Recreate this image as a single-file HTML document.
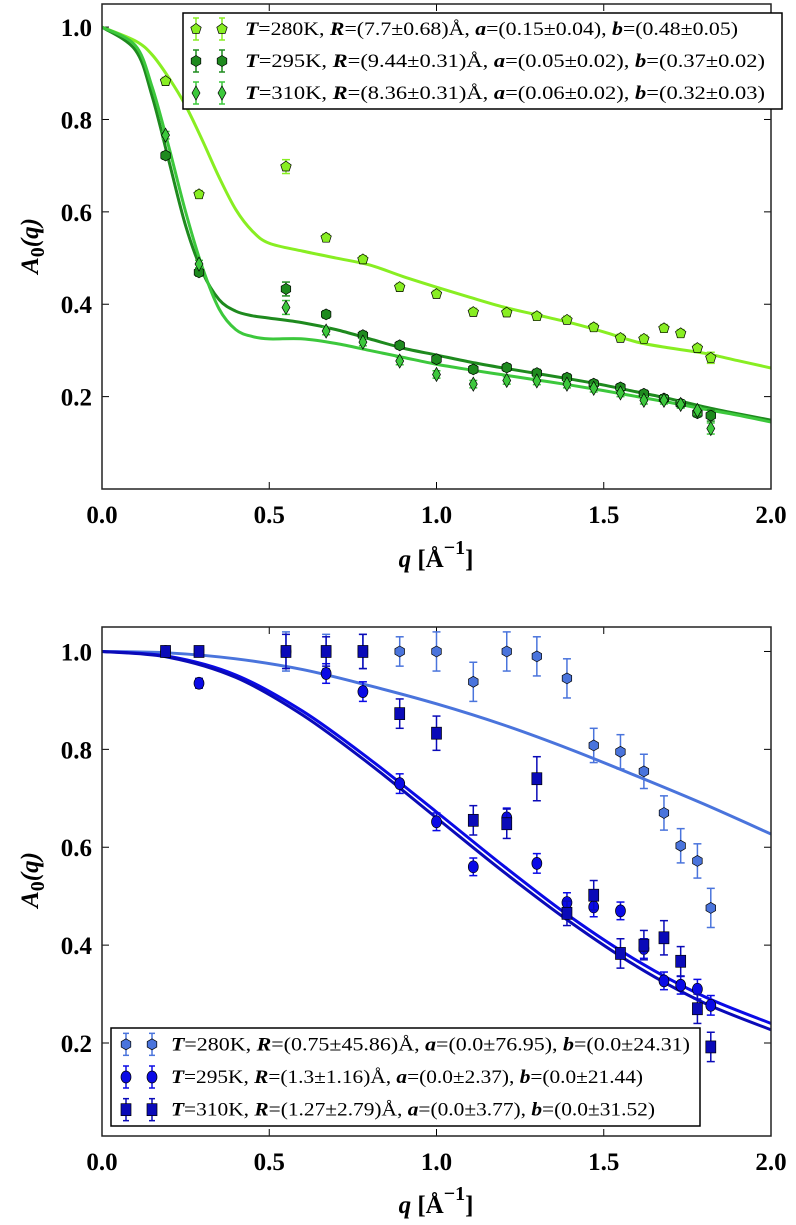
<!DOCTYPE html>
<html><head><meta charset="utf-8"><style>
body{margin:0;background:#fff}
svg{display:block}
.tk{font-family:"Liberation Serif",serif;font-weight:bold;font-size:25px}
.lg{font-family:"Liberation Serif",serif;font-size:19px}
</style></head><body>
<svg id="fig" width="796" height="1225" viewBox="0 0 796 1225"></svg>
<script>
const qPts=[0.19,0.29,0.55,0.67,0.78,0.89,1.0,1.11,1.21,1.3,1.39,1.47,1.55,1.62,1.68,1.73,1.78,1.82];
// top panel data
const top280=[0.883,0.638,0.698,0.544,0.497,0.437,0.422,0.383,0.382,0.374,0.366,0.35,0.327,0.325,0.348,0.337,0.305,0.284];
const top295=[0.722,0.469,0.433,0.378,0.333,0.311,0.281,0.259,0.263,0.251,0.241,0.228,0.22,0.206,0.196,0.185,0.164,0.159];
const top310=[0.766,0.487,0.393,0.342,0.318,0.277,0.248,0.227,0.235,0.234,0.227,0.218,0.208,0.192,0.192,0.183,0.17,0.131];
const topErr=[0.008,0.008,0.015,0.008,0.008,0.008,0.008,0.008,0.008,0.008,0.008,0.008,0.008,0.008,0.008,0.008,0.008,0.012];
const fitQTop=[0,0.1,0.15,0.2,0.25,0.3,0.35,0.4,0.45,0.5,0.6,0.7,0.8,0.9,1.0,1.1,1.2,1.3,1.4,1.5,1.6,1.7,1.8,1.9,2.0];
const fit280=[1.0,0.97,0.94,0.89,0.83,0.755,0.675,0.605,0.558,0.532,0.515,0.5,0.485,0.46,0.437,0.415,0.394,0.377,0.36,0.34,0.318,0.305,0.294,0.278,0.262];
const fit295=[1.0,0.95,0.85,0.71,0.57,0.47,0.41,0.385,0.375,0.37,0.36,0.345,0.325,0.305,0.29,0.275,0.262,0.25,0.238,0.225,0.21,0.195,0.178,0.163,0.149];
const fit310=[1.0,0.96,0.87,0.74,0.6,0.48,0.39,0.345,0.33,0.325,0.325,0.315,0.3,0.285,0.27,0.258,0.247,0.236,0.225,0.213,0.2,0.187,0.173,0.16,0.145];
// bottom panel data
const bot280=[1.0,1.0,1.0,1.0,1.0,1.0,1.0,0.938,1.0,0.99,0.945,0.808,0.795,0.755,0.67,0.603,0.572,0.476];
const bot295=[1.0,0.935,1.0,0.955,0.918,0.73,0.652,0.56,0.66,0.567,0.487,0.478,0.47,0.393,0.327,0.318,0.31,0.277];
const bot310=[1.0,1.0,1.0,1.0,1.0,0.873,0.833,0.655,0.648,0.74,0.465,0.502,0.383,0.4,0.415,0.367,0.27,0.192];
const err280=[0.01,0.01,0.04,0.035,0.035,0.03,0.04,0.04,0.04,0.04,0.04,0.035,0.035,0.035,0.035,0.035,0.035,0.04];
const err295=[0.01,0.01,0.01,0.02,0.02,0.02,0.018,0.018,0.02,0.02,0.02,0.02,0.018,0.02,0.018,0.018,0.02,0.02];
const err310=[0.01,0.01,0.035,0.03,0.035,0.03,0.035,0.03,0.03,0.045,0.025,0.03,0.03,0.03,0.035,0.03,0.03,0.03];
const fitQBot=[0,0.2,0.4,0.6,0.8,1.0,1.2,1.4,1.6,1.8,2.0];
const fitB280=[1.0,0.997,0.985,0.963,0.93,0.893,0.85,0.8,0.745,0.688,0.627];
const fitB295=[1.0,0.99,0.952,0.878,0.78,0.672,0.562,0.458,0.368,0.295,0.24];
const fitB310=[1.0,0.988,0.947,0.87,0.77,0.66,0.55,0.447,0.356,0.282,0.227];
const xTicks=["0.0","0.5","1.0","1.5","2.0"];
const yTicks=["0.2","0.4","0.6","0.8","1.0"];

const NS="http://www.w3.org/2000/svg";
const svg=document.getElementById('fig');
function mk(tag,attrs,parent){const e=document.createElementNS(NS,tag);for(const k in attrs)e.setAttribute(k,attrs[k]);(parent||svg).appendChild(e);return e;}

function panel(o){
  const g=mk('g',{});
  
  
  const X=v=>o.x0+(v-0)/(2-0)*(o.x1-o.x0);
  const Y=v=>o.yb-(v-o.ymin)/(o.ymax-o.ymin)*(o.yb-o.yt);
  xTicks.forEach(t=>{const v=parseFloat(t),px=X(v);
    mk('line',{x1:px,x2:px,y1:o.yb,y2:o.yb-7,stroke:'#000','stroke-width':1},g);
    mk('line',{x1:px,x2:px,y1:o.yt,y2:o.yt+7,stroke:'#000','stroke-width':1},g);
    const tx=mk('text',{x:px,y:o.yb+34,'text-anchor':'middle',class:'tk'},g);tx.textContent=t;
    
    
  });
  yTicks.forEach(t=>{const v=parseFloat(t),py=Y(v);
    mk('line',{x1:o.x0,x2:o.x0+7,y1:py,y2:py,stroke:'#000','stroke-width':1},g);
    mk('line',{x1:o.x1,x2:o.x1-7,y1:py,y2:py,stroke:'#000','stroke-width':1},g);
    const tx=mk('text',{x:o.x0-10,y:py+9,'text-anchor':'end',class:'tk'},g);tx.textContent=t;
    
    
  });
  const clipId='clip'+o.name;
  const cp=mk('clipPath',{id:clipId},g);mk('rect',{x:o.x0,y:o.yt,width:o.x1-o.x0,height:o.yb-o.yt},cp);
  const inner=mk('g',{'clip-path':'url(#'+clipId+')'},g);
  o.fits.forEach(f=>{
    const pts=f.q.map((q,i)=>[X(q),Y(f.v[i])]);
    let d='M'+pts[0][0]+','+pts[0][1];
    for(let i=0;i<pts.length-1;i++){const p0=pts[Math.max(0,i-1)],p1=pts[i],p2=pts[i+1],p3=pts[Math.min(pts.length-1,i+2)];
      d+=' C'+(p1[0]+(p2[0]-p0[0])/6)+','+(p1[1]+(p2[1]-p0[1])/6)+' '+(p2[0]-(p3[0]-p1[0])/6)+','+(p2[1]-(p3[1]-p1[1])/6)+' '+p2[0]+','+p2[1];}
    const p=mk('path',{d:d,fill:'none',stroke:f.color,'stroke-width':3},inner);
    
    
  });
  o.series.forEach(s=>{
    const sg=mk('g',{},inner);
    
    
    s.v.forEach((v,i)=>{
      const px=X(qPts[i]),py=Y(v),e=s.err[i];
      const y1=Y(v+e),y2=Y(v-e);
      mk('line',{x1:px,x2:px,y1:y1,y2:y2,stroke:s.ecolor,'stroke-width':1.5},sg);
      mk('line',{x1:px-4,x2:px+4,y1:y1,y2:y1,stroke:s.ecolor,'stroke-width':1.5},sg);
      mk('line',{x1:px-4,x2:px+4,y1:y2,y2:y2,stroke:s.ecolor,'stroke-width':1.5},sg);
      const m=marker(s.marker,px,py,s.color,sg);
      
      
    });
  });
  mk('rect',{x:o.x0,y:o.yt,width:o.x1-o.x0,height:o.yb-o.yt,fill:'none',stroke:'#222','stroke-width':1.5},g);
  return g;
}
function poly(n,r,cx,cy,rot){const a=[];for(let k=0;k<n;k++){const t=rot+k*2*Math.PI/n;a.push((cx+r*Math.cos(t)).toFixed(1)+','+(cy+r*Math.sin(t)).toFixed(1));}return a.join(' ');}
function marker(type,x,y,c,p){
  const st={fill:c,stroke:'#000','stroke-width':0.7};
  if(type==='pent')return mk('polygon',Object.assign({points:poly(5,5.5,x,y,-Math.PI/2)},st),p);
  if(type==='hex')return mk('polygon',Object.assign({points:poly(6,5.5,x,y,-Math.PI/2)},st),p);
  if(type==='diam')return mk('polygon',Object.assign({points:`${x},${y-7} ${x+4},${y} ${x},${y+7} ${x-4},${y}`},st),p);
  if(type==='circ')return mk('ellipse',Object.assign({cx:x,cy:y,rx:5,ry:6},st),p);
  if(type==='sq')return mk('rect',Object.assign({x:x-5,y:y-6,width:10,height:12},st),p);
}
const G1='#88ee22',G2='#1e8a1e',G3='#3cc83c',B1='#4a74dc',B2='#0a0ae6',B3='#0a0ab8';
panel({name:'top-panel',x0:102,x1:771,yt:4,yb:489,ymin:0,ymax:1.05,
  fits:[{name:'fit-280k',q:fitQTop,v:fit280,color:G1},{name:'fit-295k',q:fitQTop,v:fit295,color:G2},{name:'fit-310k',q:fitQTop,v:fit310,color:G3}],
  series:[{name:'series-280k',v:top280,err:topErr,marker:'pent',color:G1,ecolor:G1},
          {name:'series-295k',v:top295,err:topErr,marker:'hex',color:G2,ecolor:G2},
          {name:'series-310k',v:top310,err:topErr,marker:'diam',color:G3,ecolor:G3}]});
panel({name:'bottom-panel',x0:102,x1:771,yt:627,yb:1136,ymin:0.01,ymax:1.05,
  fits:[{name:'fit-280k',q:fitQBot,v:fitB280,color:B1},{name:'fit-295k',q:fitQBot,v:fitB295,color:B2},{name:'fit-310k',q:fitQBot,v:fitB310,color:B3}],
  series:[{name:'series-280k',v:bot280,err:err280,marker:'hex',color:B1,ecolor:B1},
          {name:'series-295k',v:bot295,err:err295,marker:'circ',color:B2,ecolor:B2},
          {name:'series-310k',v:bot310,err:err310,marker:'sq',color:B3,ecolor:B3}]});

function legend(name,x,y,w,h,rows,m1,m2,tx,tl){
  const g=mk('g',{});
  
  
  mk('rect',{x:x,y:y,width:w,height:h,fill:'#fff',stroke:'#000','stroke-width':1.5},g);
  rows.forEach((r,i)=>{
    const cy=y+h*(i+0.5)/rows.length;
    [x+m1,x+m2].forEach(mx=>{
      mk('line',{x1:mx,x2:mx,y1:cy-11,y2:cy+11,stroke:r.c,'stroke-width':1.5},g);
      mk('line',{x1:mx-3,x2:mx+3,y1:cy-11,y2:cy-11,stroke:r.c,'stroke-width':1.5},g);
      mk('line',{x1:mx-3,x2:mx+3,y1:cy+11,y2:cy+11,stroke:r.c,'stroke-width':1.5},g);
      marker(r.m,mx,cy,r.c,g);
    });
    const t=mk('text',{x:x+tx,y:cy+6,class:'lg',textLength:r.len||tl,lengthAdjust:'spacingAndGlyphs'},g);
    t.innerHTML=r.t;
    
    
  });
}
const I=s=>'<tspan font-style="italic" font-weight="bold">'+s+'</tspan>';
legend('top-legend',183,13,599,96,[
 {c:G1,m:'pent',len:493,t:I('T')+'=280K, '+I('R')+'=(7.7±0.68)Å, '+I('a')+'=(0.15±0.04), '+I('b')+'=(0.48±0.05)'},
 {c:G2,m:'hex',len:520,t:I('T')+'=295K, '+I('R')+'=(9.44±0.31)Å, '+I('a')+'=(0.05±0.02), '+I('b')+'=(0.37±0.02)'},
 {c:G3,m:'diam',len:520,t:I('T')+'=310K, '+I('R')+'=(8.36±0.31)Å, '+I('a')+'=(0.06±0.02), '+I('b')+'=(0.32±0.03)'}],13,39,62,520);
legend('bottom-legend',111,1028,589,98,[
 {c:B1,m:'hex',len:519,t:I('T')+'=280K, '+I('R')+'=(0.75±45.86)Å, '+I('a')+'=(0.0±76.95), '+I('b')+'=(0.0±24.31)'},
 {c:B2,m:'circ',len:472,t:I('T')+'=295K, '+I('R')+'=(1.3±1.16)Å, '+I('a')+'=(0.0±2.37), '+I('b')+'=(0.0±21.44)'},
 {c:B3,m:'sq',len:484,t:I('T')+'=310K, '+I('R')+'=(1.27±2.79)Å, '+I('a')+'=(0.0±3.77), '+I('b')+'=(0.0±31.52)'}],15,41,60,519);

function axisLabels(yc,xy,nm){
  const yl=mk('text',{x:0,y:0,transform:`translate(38,${yc}) rotate(-90)`,'text-anchor':'middle',class:'tk','font-size':29,'font-style':'italic'});
  yl.innerHTML='A<tspan font-size="20" dy="6" font-style="normal">0</tspan><tspan dy="-6">(q)</tspan>';
  
  
  const xl=mk('text',{x:436,y:xy,'text-anchor':'middle',class:'tk','font-size':29});
  xl.innerHTML='<tspan font-style="italic">q</tspan> [Å<tspan font-size="20" dy="-13">−1</tspan><tspan dy="13">]</tspan>';
  
  
}
axisLabels(246,567,'top');
axisLabels(880,1213,'bottom');
</script>
</body></html>
